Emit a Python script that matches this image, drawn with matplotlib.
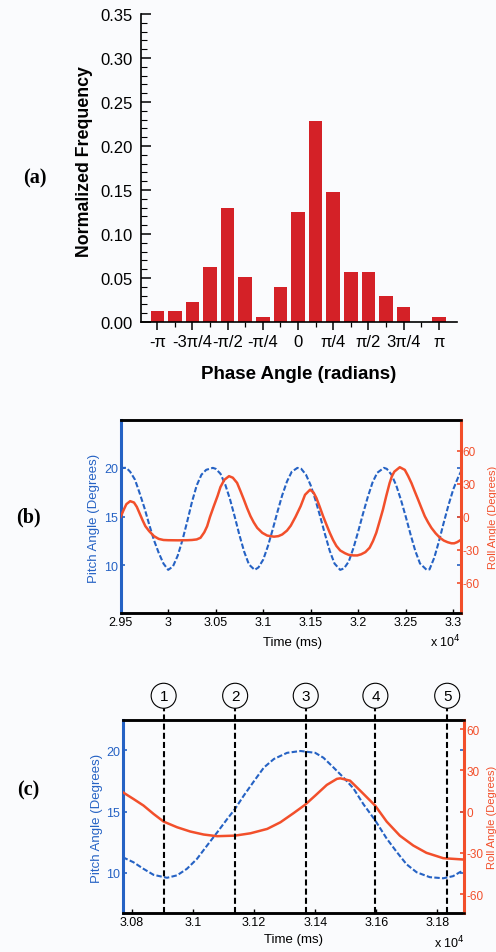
import numpy as np
import matplotlib
matplotlib.use('Agg')
import matplotlib.pyplot as plt
from matplotlib.ticker import MultipleLocator, FormatStrFormatter
from matplotlib.transforms import blended_transform_factory

plt.rcParams['font.family'] = ['Liberation Sans', 'DejaVu Sans']
plt.rcParams['axes.unicode_minus'] = False

BLUE = '#2562c4'
RED = '#f24f2b'
BAR = '#d42127'
BG = '#fafbfd'

# ---- (a) phase angle histogram ----
bin_k = np.arange(-8, 9)  # bins every pi/8
freq = [0.012, 0.012, 0.023, 0.062, 0.130, 0.051, 0.006, 0.040,
        0.125, 0.228, 0.148, 0.057, 0.057, 0.029, 0.017, 0.0, 0.006]
phase_ticks = np.arange(-4, 5) * np.pi / 4
phase_labels = ['-\u03c0', '-3\u03c0/4', '-\u03c0/2', '-\u03c0/4', '0',
                '\u03c0/4', '\u03c0/2', '3\u03c0/4', '\u03c0']

# ---- (b) pitch / roll time series (time in 1e4 ms) ----
t_pitch_b = [2.950, 2.953, 2.956, 2.960, 2.965, 2.970, 2.975, 2.980, 2.985, 2.990,
             2.995, 3.000, 3.005, 3.010, 3.015, 3.020, 3.025, 3.030, 3.035, 3.040,
             3.047, 3.050, 3.055, 3.060, 3.065, 3.070, 3.075, 3.080, 3.085, 3.091,
             3.095, 3.100, 3.105, 3.110, 3.115, 3.120, 3.125, 3.130, 3.136, 3.140,
             3.145, 3.150, 3.155, 3.160, 3.165, 3.170, 3.175, 3.181, 3.185, 3.190,
             3.195, 3.200, 3.205, 3.210, 3.215, 3.220, 3.227, 3.230, 3.235, 3.240,
             3.245, 3.250, 3.255, 3.260, 3.265, 3.272, 3.275, 3.280, 3.285, 3.290,
             3.295, 3.300, 3.305, 3.308]
pitch_b = [19.9, 20.0, 20.0, 19.6, 18.8, 17.4, 15.9, 14.2, 12.6, 11.3,
           10.2, 9.55, 9.9, 11.0, 12.6, 14.5, 16.5, 18.2, 19.3, 19.8,
           20.0, 19.9, 19.4, 18.3, 16.8, 15.0, 13.1, 11.4, 10.1, 9.55,
           9.8, 10.6, 12.0, 13.7, 15.5, 17.2, 18.6, 19.6, 20.0, 19.9,
           19.3, 18.2, 16.7, 15.0, 13.2, 11.5, 10.2, 9.55, 9.7, 10.4,
           11.8, 13.5, 15.3, 17.0, 18.5, 19.5, 20.0, 19.9, 19.3, 18.2,
           16.7, 15.0, 13.2, 11.5, 10.2, 9.55, 9.6, 10.8, 12.5, 14.4,
           16.2, 17.8, 19.0, 19.6]

t_roll_b = [2.950, 2.953, 2.956, 2.960, 2.964, 2.967, 2.970, 2.973, 2.976, 2.980,
            2.985, 2.990, 2.995, 3.000, 3.010, 3.020, 3.025, 3.030, 3.034, 3.038,
            3.041, 3.044, 3.048, 3.052, 3.055, 3.059, 3.064, 3.068, 3.0725, 3.076,
            3.0796, 3.083, 3.0866, 3.090, 3.0937, 3.099, 3.1042, 3.1113, 3.116, 3.120,
            3.125, 3.129, 3.134, 3.1394, 3.144, 3.1493, 3.153, 3.156, 3.1595, 3.163,
            3.1665, 3.170, 3.1735, 3.177, 3.181, 3.186, 3.190, 3.195, 3.199, 3.203,
            3.2075, 3.212, 3.2155, 3.219, 3.2225, 3.226, 3.2295, 3.233, 3.2355, 3.238,
            3.2437, 3.249, 3.2525, 3.256, 3.2595, 3.263, 3.2665, 3.270, 3.2735, 3.277,
            3.2815, 3.286, 3.290, 3.294, 3.298, 3.301, 3.304, 3.3078]
roll_b = [0.0, 6.0, 11.5, 14.2, 13.0, 9.0, 3.0, -3.0, -8.5, -13.0,
          -17.5, -20.0, -21.0, -21.2, -21.3, -21.2, -21.0, -20.5, -19.0, -14.0,
          -8.5, 0.0, 9.7, 19.0, 27.0, 33.5, 36.9, 35.5, 30.8, 23.5,
          15.7, 8.0, 0.6, -5.0, -10.0, -14.5, -17.0, -18.0, -17.5, -16.0,
          -12.5, -8.0, 0.0, 9.7, 20.0, 24.6, 22.0, 17.0, 9.0, 0.6,
          -7.0, -14.4, -21.0, -26.4, -30.5, -33.0, -34.5, -35.0, -35.0, -34.0,
          -32.0, -28.0, -22.0, -14.4, -4.0, 6.6, 19.0, 30.6, 37.0, 41.0,
          45.0, 42.6, 37.0, 30.6, 23.0, 15.6, 8.0, 0.6, -5.0, -10.0,
          -15.0, -19.0, -21.5, -23.0, -24.0, -24.0, -23.0, -21.0]

# ---- (c) zoomed window ----
t_pitch_c = [3.0770, 3.0805, 3.0838, 3.0871, 3.0915, 3.0948, 3.0980, 3.1013, 3.1046, 3.1079,
             3.1112, 3.1137, 3.1166, 3.1200, 3.1232, 3.1265, 3.1308, 3.1352, 3.1400, 3.1427,
             3.1460, 3.1492, 3.1525, 3.1558, 3.1596, 3.1634, 3.1667, 3.1699, 3.1732, 3.1775,
             3.1819, 3.1851, 3.1873, 3.1887]
pitch_c = [11.28, 10.87, 10.33, 9.84, 9.60, 9.80, 10.33, 11.14, 12.23, 13.30,
           14.40, 15.20, 16.30, 17.50, 18.60, 19.30, 19.80, 19.95, 19.80, 19.40,
           18.60, 17.80, 16.90, 15.60, 14.30, 12.80, 11.70, 10.70, 10.05, 9.65,
           9.56, 9.73, 10.05, 10.20]

t_roll_c = [3.0770, 3.0805, 3.0838, 3.0871, 3.0904, 3.0948, 3.0991, 3.1035, 3.1079, 3.1137,
            3.1188, 3.1243, 3.1286, 3.1330, 3.1366, 3.1400, 3.1438, 3.1471, 3.1482, 3.1514,
            3.1547, 3.1596, 3.1634, 3.1677, 3.1721, 3.1764, 3.1819, 3.1887]
roll_c = [14.1, 9.2, 4.4, -1.7, -7.3, -11.4, -14.5, -16.7, -17.9, -17.5,
          -15.8, -12.6, -7.8, -1.0, 4.8, 11.6, 19.4, 23.8, 24.2, 22.5,
          15.3, 4.4, -7.3, -17.5, -24.7, -30.0, -33.9, -34.9]

event_times = [3.0904, 3.1138, 3.1369, 3.1597, 3.1832]
event_labels = ['1', '2', '3', '4', '5']

fig = plt.figure(figsize=(4.96, 9.53), dpi=100, facecolor=BG)

# (a)
ax = fig.add_axes([0.2837, 0.6611, 0.637, 0.3232])
ax.set_facecolor('none')
ax.bar(bin_k * np.pi / 8, freq, width=0.30, color=BAR, zorder=2)
ax.set_xlim(-3.51, 3.54)
ax.set_ylim(0, 0.35)
ax.spines['top'].set_visible(False)
ax.spines['right'].set_visible(False)
for s in ('left', 'bottom'):
    ax.spines[s].set_linewidth(1.2)
ax.yaxis.set_major_locator(MultipleLocator(0.05))
ax.yaxis.set_minor_locator(MultipleLocator(0.01))
ax.yaxis.set_major_formatter(FormatStrFormatter('%.2f'))
ax.set_xticks(phase_ticks)
ax.set_xticklabels(phase_labels)
ax.set_xticks(phase_ticks[:-1] + np.pi / 8, minor=True)
ax.tick_params(axis='y', which='major', direction='in', length=7, width=1.1, labelsize=12, pad=6)
ax.tick_params(axis='y', which='minor', direction='in', length=4, width=0.8)
ax.tick_params(axis='x', which='major', direction='out', length=6, width=1.1, labelsize=12, pad=3)
ax.tick_params(axis='x', which='minor', direction='out', length=3.5, width=0.9)
ax.set_ylabel('Normalized Frequency', fontsize=12.8, fontweight='bold')
ax.yaxis.set_label_coords(-0.151, 0.523)
ax.set_xlabel('Phase Angle (radians)', fontsize=13.5, fontweight='bold')
ax.xaxis.set_label_coords(0.5, -0.14)


def pitch_roll_panel(rect, t_p, p, t_r, r, xlim, plim, rlim, xticks):
    axp = fig.add_axes(rect)
    axp.set_facecolor('none')
    axp.plot(t_p, p, color=BLUE, lw=1.5, dashes=(2.6, 1.1))
    axr = axp.twinx()
    axr.plot(t_r, r, color=RED, lw=1.8)
    axp.set_xlim(*xlim)
    axp.set_ylim(*plim)
    axr.set_ylim(*rlim)
    axp.set_xticks(xticks)
    axp.xaxis.set_major_formatter(FormatStrFormatter('%g'))
    axp.set_yticks([10, 15, 20])
    axr.set_yticks([-60, -30, 0, 30, 60])
    axp.tick_params(axis='x', direction='in', length=3, width=1, labelsize=9, pad=2)
    axp.tick_params(axis='y', direction='in', length=3, width=1.2, colors=BLUE,
                    labelsize=9, pad=2, right=True, labelright=False)
    axr.tick_params(axis='y', direction='in', length=3, width=1.2, colors=RED,
                    labelsize=8.5, pad=1.5)
    axp.spines['left'].set_color(BLUE)
    axp.spines['left'].set_linewidth(2.2)
    axp.spines['right'].set_visible(False)
    axr.spines['left'].set_visible(False)
    axr.spines['right'].set_color(RED)
    axr.spines['right'].set_linewidth(2.2)
    for a in (axp, axr):
        a.spines['top'].set_linewidth(1.8)
        a.spines['bottom'].set_linewidth(1.8)
    axp.set_ylabel('Pitch Angle (Degrees)', color=BLUE, fontsize=9.5)
    axr.set_ylabel('Roll Angle (Degrees)', color=RED, fontsize=8)
    axp.set_xlabel('Time (ms)', fontsize=9.5)
    return axp, axr


# (b)
axb, axb_r = pitch_roll_panel([0.2433, 0.3554, 0.6855, 0.2028],
                              t_pitch_b, pitch_b, t_roll_b, roll_b,
                              (2.95, 3.3078), (5.1, 24.9), (-87.5, 87.8),
                              [2.95, 3.0, 3.05, 3.1, 3.15, 3.2, 3.25, 3.3])
axb.yaxis.set_label_coords(-0.061, 0.495)
axb_r.yaxis.set_label_coords(1.079, 0.5)
axb.xaxis.set_label_coords(0.505, -0.115)
axb.text(1.0, -0.1, 'x 10$^4$', transform=axb.transAxes, ha='right', va='top', fontsize=9)

# (c)
axc, axc_r = pitch_roll_panel([0.2474, 0.0406, 0.6887, 0.2031],
                              t_pitch_c, pitch_c, t_roll_c, roll_c,
                              (3.077, 3.1888), (6.7, 22.5), (-74, 66.8),
                              [3.08, 3.1, 3.12, 3.14, 3.16, 3.18])
axc.yaxis.set_label_coords(-0.058, 0.497)
axc_r.yaxis.set_label_coords(1.067, 0.5)
axc.xaxis.set_label_coords(0.5, -0.1)
axc.text(1.0, -0.105, 'x 10$^4$', transform=axc.transAxes, ha='right', va='top', fontsize=9)

# event markers: dashed lines with circled numbers above the axes
trans = blended_transform_factory(axc_r.transData, axc_r.transAxes)
axc_r.vlines(event_times, 0, 1.06, transform=trans, colors='black', lw=1.5,
             linestyles=(0, (2.9, 1.5)), clip_on=False, zorder=5)
for t, lab in zip(event_times, event_labels):
    axc_r.text(t, 1.124, lab, transform=trans, ha='center', va='center', fontsize=11,
               bbox=dict(boxstyle='circle,pad=0.36', fc=BG, ec='black', lw=0.8),
               clip_on=False, zorder=6)

for lab, x, y in (('(a)', 0.0706, 0.8132), ('(b)', 0.0565, 0.4565), ('(c)', 0.0565, 0.171)):
    fig.text(x, y, lab, family='Liberation Serif', fontweight='bold', fontsize=14.5,
             ha='center', va='center')

fig.savefig('out.png', dpi=100, facecolor=BG)
